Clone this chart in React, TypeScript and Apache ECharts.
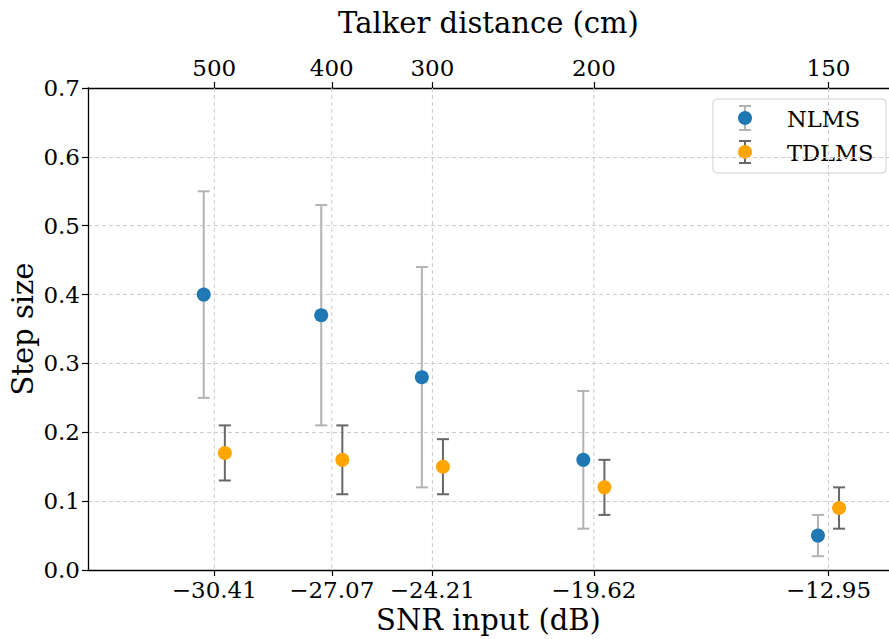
import React, { useEffect, useRef } from "react";
import * as echarts from "echarts";

const snrTicks = [-30.41, -27.07, -24.21, -19.62, -12.95];
const distanceLabels = ["500", "400", "300", "200", "150"];
const nlmsMean = [0.4, 0.37, 0.28, 0.16, 0.05];
const nlmsLow = [0.25, 0.21, 0.12, 0.06, 0.02];
const nlmsHigh = [0.55, 0.53, 0.44, 0.26, 0.08];
const tdlmsMean = [0.17, 0.16, 0.15, 0.12, 0.09];
const tdlmsLow = [0.13, 0.11, 0.11, 0.08, 0.06];
const tdlmsHigh = [0.21, 0.21, 0.19, 0.16, 0.12];
const offset = 0.3;

const FONT = "DejaVu Serif";
const BLUE = "#1f77b4";
const ORANGE = "#ffa500";
const TICK_FS = 23;
const TITLE_FS = 29;

function errorBarSeries(xs: number[], lo: number[], hi: number[], color: string, z: number) {
  return {
    type: "custom",
    z,
    silent: true,
    data: xs.map((x, i) => [x, lo[i], hi[i]]),
    renderItem: (params: any, api: any) => {
      const x = api.value(0);
      const p1 = api.coord([x, api.value(1)]);
      const p2 = api.coord([x, api.value(2)]);
      const cw = 6;
      const style = { stroke: color, lineWidth: 2, fill: "none" };
      return {
        type: "group",
        children: [
          { type: "line", shape: { x1: p1[0], y1: p1[1], x2: p2[0], y2: p2[1] }, style },
          { type: "line", shape: { x1: p1[0] - cw, y1: p1[1], x2: p1[0] + cw, y2: p1[1] }, style },
          { type: "line", shape: { x1: p2[0] - cw, y1: p2[1], x2: p2[0] + cw, y2: p2[1] }, style },
        ],
      };
    },
  };
}

export default function App() {
  const ref = useRef<HTMLDivElement>(null);
  useEffect(() => {
    document.body.style.margin = "0";
    const chart = echarts.init(ref.current!, null, { renderer: "svg" });
    const nlmsX = snrTicks.map((v) => v - offset);
    const tdlmsX = snrTicks.map((v) => v + offset);
    const xMin = -34.0;
    const xMax = -11.23;
    const fmt = (v: number) => (v < 0 ? "\u2212" + Math.abs(v).toFixed(2) : v.toFixed(2));
    const legendX = 713, legendY = 99;
    const option: any = {
      animation: false,
      backgroundColor: "#ffffff",
      grid: { left: 88, right: 0, top: 88, bottom: 69, containLabel: false, outerBoundsMode: "none" },
      xAxis: [
        {
          type: "value",
          position: "bottom",
          min: xMin,
          max: xMax,
          name: "SNR input (dB)",
          nameLocation: "middle",
          nameGap: 30,
          nameTextStyle: { fontFamily: FONT, fontSize: TITLE_FS, color: "#000" },
          axisLine: { show: true, onZero: false, lineStyle: { color: "#000", width: 1.3 } },
          axisTick: { show: true, customValues: snrTicks, length: 6, lineStyle: { color: "#000", width: 1.2 } },
          axisLabel: {
            customValues: snrTicks,
            formatter: (v: number) => fmt(v),
            fontFamily: FONT,
            fontSize: TICK_FS,
            color: "#000",
            margin: 8,
          },
          splitLine: { show: false },
        },
        {
          type: "value",
          position: "top",
          min: xMin,
          max: xMax,
          name: "Talker distance (cm)",
          nameLocation: "middle",
          nameGap: 51,
          nameTextStyle: { fontFamily: FONT, fontSize: TITLE_FS, color: "#000" },
          axisLine: { show: true, onZero: false, lineStyle: { color: "#000", width: 1.3 } },
          axisTick: { show: true, customValues: snrTicks, length: 6, lineStyle: { color: "#000", width: 1.2 } },
          axisLabel: {
            customValues: snrTicks,
            formatter: (v: number) => {
              const i = snrTicks.findIndex((t) => Math.abs(t - v) < 1e-6);
              return i >= 0 ? distanceLabels[i] : "";
            },
            fontFamily: FONT,
            fontSize: TICK_FS,
            color: "#000",
            margin: 9,
          },
          splitLine: { show: false },
        },
      ],
      yAxis: {
        type: "value",
        min: 0,
        max: 0.7,
        interval: 0.1,
        name: "Step size",
        nameLocation: "middle",
        nameGap: 51,
        nameMoveOverlap: false,
        nameTextStyle: { fontFamily: FONT, fontSize: TITLE_FS, color: "#000" },
        axisLine: { show: true, lineStyle: { color: "#000", width: 1.3 } },
        axisTick: { show: true, length: 6, lineStyle: { color: "#000", width: 1.2 } },
        axisLabel: {
          formatter: (v: number) => v.toFixed(1),
          fontFamily: FONT,
          fontSize: TICK_FS,
          color: "#000",
          margin: 8,
        },
        splitLine: { show: true, lineStyle: { color: "#cccccc", type: [4, 3], width: 1 } },
      },
      series: [
        {
          type: "custom",
          z: 1,
          silent: true,
          data: snrTicks.map((v) => [v]),
          renderItem: (params: any, api: any) => {
            const x = api.coord([api.value(0), 0])[0];
            const cs = params.coordSys;
            return {
              type: "line",
              shape: { x1: x, y1: cs.y, x2: x, y2: cs.y + cs.height },
              style: { stroke: "#cccccc", lineWidth: 1, lineDash: [4, 3] },
            };
          },
        },
        errorBarSeries(nlmsX, nlmsLow, nlmsHigh, "#b3b3b3", 2),
        errorBarSeries(tdlmsX, tdlmsLow, tdlmsHigh, "#676767", 2),
        {
          type: "scatter",
          name: "NLMS",
          z: 3,
          symbol: "circle",
          symbolSize: 14,
          itemStyle: { color: BLUE, opacity: 1 },
          data: nlmsX.map((x, i) => [x, nlmsMean[i]]),
        },
        {
          type: "scatter",
          name: "TDLMS",
          z: 3,
          symbol: "circle",
          symbolSize: 14,
          itemStyle: { color: ORANGE, opacity: 1 },
          data: tdlmsX.map((x, i) => [x, tdlmsMean[i]]),
        },
      ],
      graphic: [
        {
          type: "group",
          z: 10,
          children: [
            {
              type: "rect",
              shape: { x: legendX, y: legendY, width: 173, height: 74, r: 4 },
              style: { fill: "rgba(255,255,255,0.85)", stroke: "#d0d0d0", lineWidth: 1 },
            },
            { type: "line", shape: { x1: 745, y1: 106, x2: 745, y2: 130 }, style: { stroke: "#b3b3b3", lineWidth: 2 } },
            { type: "line", shape: { x1: 739, y1: 106, x2: 751, y2: 106 }, style: { stroke: "#b3b3b3", lineWidth: 2 } },
            { type: "line", shape: { x1: 739, y1: 130, x2: 751, y2: 130 }, style: { stroke: "#b3b3b3", lineWidth: 2 } },
            { type: "circle", shape: { cx: 745, cy: 118, r: 7 }, style: { fill: BLUE } },
            { type: "text", x: 787, y: 119, style: { text: "NLMS", font: `22.5px '${FONT}'`, fill: "#000", verticalAlign: "middle" } },
            { type: "line", shape: { x1: 745, y1: 141, x2: 745, y2: 163 }, style: { stroke: "#676767", lineWidth: 2 } },
            { type: "line", shape: { x1: 739, y1: 141, x2: 751, y2: 141 }, style: { stroke: "#676767", lineWidth: 2 } },
            { type: "line", shape: { x1: 739, y1: 163, x2: 751, y2: 163 }, style: { stroke: "#676767", lineWidth: 2 } },
            { type: "circle", shape: { cx: 745, cy: 152, r: 7 }, style: { fill: ORANGE } },
            { type: "text", x: 787, y: 153, style: { text: "TDLMS", font: `22.5px '${FONT}'`, fill: "#000", verticalAlign: "middle" } },
          ],
        },
      ],
    };
    chart.setOption(option);
    return () => chart.dispose();
  }, []);
  return <div ref={ref} style={{ width: 889, height: 639, position: "absolute", left: 0, top: 0 }} />;
}
